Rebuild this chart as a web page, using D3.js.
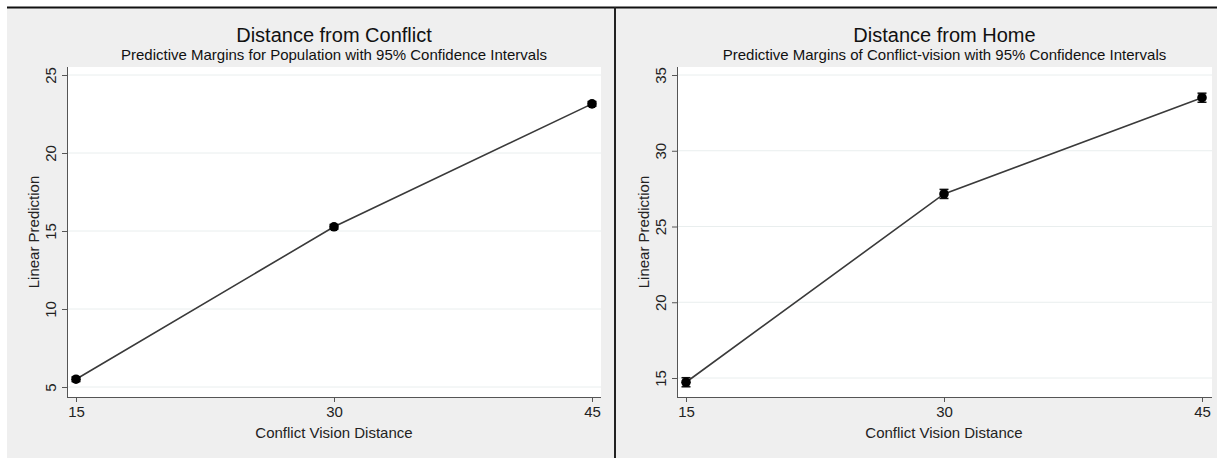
<!DOCTYPE html>
<html>
<head>
<meta charset="utf-8">
<script src="https://cdn.jsdelivr.net/npm/d3@7"></script>
<style>
  body { margin: 0; background: #ffffff; }
  svg { display: block; font-family: "Liberation Sans", Arial, Helvetica, sans-serif; }
</style>
</head>
<body>
<div id="chart"></div>
<script>
// data
const distances = [15, 30, 45];
const xTicks = [15, 30, 45];

const conflictValues = [5.5, 15.27, 23.15];
const conflictLow = [5.35, 15.12, 23.0];
const conflictHigh = [5.65, 15.42, 23.3];
const conflictTicks = [5, 10, 15, 20, 25];

const homeValues = [14.72, 27.15, 33.5];
const homeLow = [14.42, 26.85, 33.2];
const homeHigh = [15.02, 27.45, 33.8];
const homeTicks = [15, 20, 25, 30, 35];

const titles = ['Distance from Conflict', 'Distance from Home'];
const subtitles = ['Predictive Margins for Population with 95% Confidence Intervals',
    'Predictive Margins of Conflict-vision with 95% Confidence Intervals'];
const xLabel = 'Conflict Vision Distance';
const yLabel = 'Linear Prediction';

const W = 1217, H = 458;

const svg = d3.select('#chart').append('svg')
    .attr('width', W)
    .attr('height', H);

// outer background + frame lines
svg.append('rect').attr('x', 7).attr('y', 7).attr('width', W - 7).attr('height', H - 7).attr('fill', '#efefef');
svg.append('line').attr('x1', 7).attr('x2', W).attr('y1', 7.5).attr('y2', 7.5)
    .attr('stroke', '#111').attr('stroke-width', 2);
svg.append('line').attr('x1', 615).attr('x2', 615).attr('y1', 7).attr('y2', H)
    .attr('stroke', '#222').attr('stroke-width', 2);

const panels = [
    { left: 67, right: 601, xr: [76, 592], yr: [387, 75], ydom: [5, 25], ticks: conflictTicks,
      values: conflictValues, low: conflictLow, high: conflictHigh },
    { left: 677, right: 1212, xr: [686, 1202], yr: [378, 75], ydom: [15, 35], ticks: homeTicks,
      values: homeValues, low: homeLow, high: homeHigh }
];
const plotTop = 67, plotBottom = 397;
const fontFamily = '"Liberation Sans", Arial, sans-serif';

panels.forEach(function (p, i) {
    const x = d3.scaleLinear().domain([15, 45]).range(p.xr);
    const y = d3.scaleLinear().domain(p.ydom).range(p.yr);
    const g = svg.append('g');
    const cx = (p.left + p.right) / 2;

    // plot region
    g.append('rect')
        .attr('x', p.left).attr('y', plotTop)
        .attr('width', p.right - p.left).attr('height', plotBottom - plotTop)
        .attr('fill', '#ffffff');

    // gridlines
    g.selectAll('.grid')
        .data(p.ticks)
        .enter().append('line')
        .attr('x1', p.left).attr('x2', p.right)
        .attr('y1', function (d) { return y(d); })
        .attr('y2', function (d) { return y(d); })
        .attr('stroke', '#e9eeee')
        .attr('stroke-width', 1);

    // titles
    g.append('text')
        .attr('x', cx).attr('y', 42)
        .attr('text-anchor', 'middle')
        .attr('font-size', 20)
        .attr('fill', '#111')
        .text(titles[i]);
    g.append('text')
        .attr('x', cx).attr('y', 60)
        .attr('text-anchor', 'middle')
        .attr('font-size', 15)
        .attr('fill', '#111')
        .text(subtitles[i]);

    // y axis
    const yAxis = g.append('g')
        .attr('transform', 'translate(' + p.left + ',0)')
        .call(d3.axisLeft(y).tickValues(p.ticks).tickSize(5).tickSizeOuter(0));
    yAxis.select('.domain').attr('d', 'M0.5,' + plotTop + 'V' + plotBottom).attr('stroke', '#555');
    yAxis.selectAll('.tick line').attr('stroke', '#555');
    yAxis.selectAll('.tick text')
        .attr('x', null).attr('dy', null)
        .attr('transform', 'translate(-11,0) rotate(-90)')
        .attr('text-anchor', 'middle')
        .attr('font-size', 15)
        .attr('font-family', fontFamily)
        .attr('fill', '#222');

    // x axis
    const xAxis = g.append('g')
        .attr('transform', 'translate(0,' + plotBottom + ')')
        .call(d3.axisBottom(x).tickValues(xTicks).tickSize(5).tickSizeOuter(0));
    xAxis.select('.domain').attr('d', 'M' + p.left + ',0.5H' + p.right).attr('stroke', '#555');
    xAxis.selectAll('.tick line').attr('stroke', '#555');
    xAxis.selectAll('.tick text')
        .attr('y', 20).attr('dy', null)
        .attr('font-size', 15)
        .attr('font-family', fontFamily)
        .attr('fill', '#222');

    // axis titles
    g.append('text')
        .attr('x', (p.xr[0] + p.xr[1]) / 2).attr('y', 438)
        .attr('text-anchor', 'middle')
        .attr('font-size', 15)
        .attr('fill', '#222')
        .text(xLabel);
    g.append('text')
        .attr('transform', 'translate(' + (p.left - 28) + ',' + ((plotTop + plotBottom) / 2) + ') rotate(-90)')
        .attr('text-anchor', 'middle')
        .attr('font-size', 15)
        .attr('fill', '#222')
        .text(yLabel);

    const pts = distances.map(function (d, j) {
        return { key: d, value: p.values[j], low: p.low[j], high: p.high[j] };
    });

    const line = d3.line()
        .x(function (d) { return x(d.key); })
        .y(function (d) { return y(d.value); });

    g.append('path')
        .datum(pts)
        .attr('fill', 'none')
        .attr('stroke', '#3a3a3a')
        .attr('stroke-width', 1.6)
        .attr('d', line);

    // confidence intervals
    const ci = g.selectAll('.ci').data(pts).enter().append('g');
    ci.append('line')
        .attr('x1', function (d) { return x(d.key); })
        .attr('x2', function (d) { return x(d.key); })
        .attr('y1', function (d) { return y(d.low); })
        .attr('y2', function (d) { return y(d.high); })
        .attr('stroke', '#111').attr('stroke-width', 1.5);
    [function (d) { return y(d.low); }, function (d) { return y(d.high); }].forEach(function (fy) {
        ci.append('line')
            .attr('x1', function (d) { return x(d.key) - 4.5; })
            .attr('x2', function (d) { return x(d.key) + 4.5; })
            .attr('y1', fy).attr('y2', fy)
            .attr('stroke', '#111').attr('stroke-width', 1.5);
    });

    g.selectAll('.pt')
        .data(pts)
        .enter().append('circle')
        .attr('cx', function (d) { return x(d.key); })
        .attr('cy', function (d) { return y(d.value); })
        .attr('r', 4.8)
        .attr('fill', '#000');
});
</script>
</body>
</html>
